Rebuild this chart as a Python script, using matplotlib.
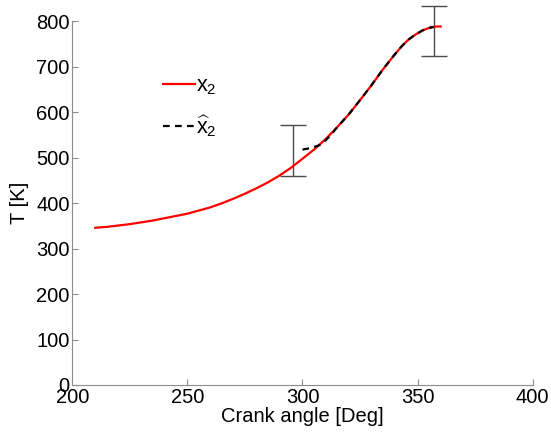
import matplotlib as mpl
mpl.use("Agg")
import matplotlib.pyplot as plt

# temperature trace (x2) over crank angle
crank_deg = [210, 215, 220, 225, 230, 235, 240, 245, 250, 255, 260, 265,
             270, 275, 280, 285, 290, 295, 300, 305, 310, 315, 320, 325,
             330, 335, 340, 343, 346, 349, 352, 355, 358, 360]
temp_K = [346, 348, 351, 354, 358, 362, 367, 372, 377, 384, 391, 400,
          410, 421, 433, 446, 461, 478, 498, 518, 541, 567, 595, 627,
          660, 695, 727, 745, 760, 771, 780, 786, 789, 789]

# estimate (x2 hat)
est_deg = [300, 304, 308, 312, 315, 320, 325, 330, 335, 340, 343, 346, 349,
           352, 355, 357]
est_K = [518, 522, 529, 548, 567, 595, 627, 660, 695, 727, 745, 760, 771,
         780, 786, 788]

# error bars
bar_deg = [296, 357]
bar_K = [515.5, 779]
bar_err = [56.5, 56]

plt.rcParams['font.family'] = ['Liberation Sans', 'DejaVu Sans']
plt.rcParams['mathtext.fontset'] = 'custom'
plt.rcParams['mathtext.rm'] = 'Liberation Sans'
plt.rcParams['mathtext.it'] = 'Liberation Sans'

fig = plt.figure(figsize=(5.51, 4.36), dpi=100)
ax = fig.add_axes([0.1312, 0.117, 0.8356, 0.8337])

eb = ax.errorbar(bar_deg, bar_K, yerr=bar_err, fmt='none', ecolor='#4a4a4a',
                 elinewidth=1.0, capsize=9.6, capthick=1.0)
for art in eb.get_children():
    art.set_clip_on(False)

ax.plot(crank_deg, temp_K, color='red', lw=1.6, label=r'$\mathregular{x_2}$')
ax.plot(est_deg, est_K, color='black', lw=1.6, dashes=(3, 2.4),
        label=r'$\widehat{x}_2$')

ax.set_xlim(200, 400)
ax.set_ylim(0, 800)
ax.set_xticks([200, 250, 300, 350, 400])
ax.set_yticks(range(0, 801, 100))

for side in ['top', 'right']:
    ax.spines[side].set_visible(False)
for side in ['left', 'bottom']:
    ax.spines[side].set_color('#8c8c8c')
ax.tick_params(direction='in', length=4, color='#8c8c8c', labelsize=14.5, pad=2)

ax.set_xlabel('Crank angle [Deg]', fontsize=14.5, labelpad=0)
ax.set_ylabel('T [K]', fontsize=14.5, labelpad=5)

ax.legend(loc='upper left', bbox_to_anchor=(0.156, 0.905), frameon=False,
          fontsize=15.5, handlelength=1.45, handletextpad=0.05,
          labelspacing=0.75)

fig.savefig('out.png', dpi=100)
